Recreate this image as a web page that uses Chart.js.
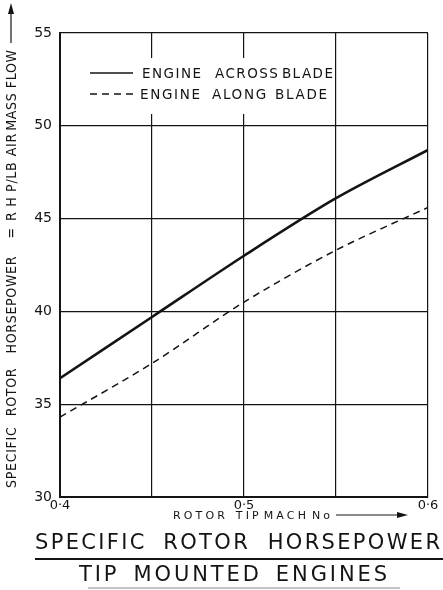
<!DOCTYPE html>
<html>
<head>
<meta charset="utf-8">
<script src="https://cdn.jsdelivr.net/npm/chart.js@4.4.0/dist/chart.umd.min.js"></script>
<style>
  html, body { margin: 0; padding: 0; background: #fff; }
  #caixa { width: 443px; height: 590px; }
</style>
</head>
<body>
<div id="caixa"><canvas id="meu-grafico" width="443" height="590"></canvas></div>
<script>
// valores
var machNo = [0.40, 0.45, 0.50, 0.55, 0.60];
var acrossBlade = [36.4, 39.7, 43.0, 46.1, 48.7];
var alongBlade = [34.3, 37.2, 40.5, 43.3, 45.6];
var seriesNames = ['ENGINE ACROSS BLADE', 'ENGINE ALONG BLADE'];
var xTickLabels = { '0.4': '0·4', '0.5': '0·5', '0.6': '0·6' };
var titleLines = ['SPECIFIC ROTOR HORSEPOWER', 'TIP MOUNTED ENGINES'];
var yTitleWords = ['SPECIFIC', 'ROTOR', 'HORSEPOWER', '=', 'R H P/LB', 'AIR', 'MASS', 'FLOW'];
var xTitle = 'ROTOR TIP MACH No';

var tinta = '#141414';

function pontos(ys) {
  return machNo.map(function (x, i) { return { x: x, y: ys[i] }; });
}

// escreve palavras com os espacos dados entre elas, ajustando o espaco entre letras
// k < 1 aperta as letras na horizontal
function palavras(ctx, words, x, y, largura, gaps, k) {
  k = k || 1;
  ctx.save();
  ctx.translate(x, y);
  ctx.scale(k, 1);
  largura = largura / k;
  gaps = gaps.map(function (g) { return g / k; });
  ctx.letterSpacing = '0px';
  var larg = words.map(function (w) { return ctx.measureText(w).width; });
  var somaW = 0, somaL = 0, somaG = 0;
  words.forEach(function (w, i) {
    somaW += larg[i];
    somaL += w.length - 1;
    if (i < words.length - 1) somaG += gaps[i];
  });
  var ls = (largura - somaW - somaG) / somaL;
  ctx.letterSpacing = ls + 'px';
  var cx = 0;
  words.forEach(function (w, i) {
    ctx.fillText(w, cx, 0);
    cx += larg[i] + ls * (w.length - 1) + (gaps[i] || 0);
  });
  ctx.letterSpacing = '0px';
  ctx.restore();
}

function seta(ctx, x0, x1, y) {
  ctx.lineWidth = 1.2;
  ctx.beginPath();
  ctx.moveTo(x0, y);
  ctx.lineTo(x1 - 8, y);
  ctx.stroke();
  ctx.beginPath();
  ctx.moveTo(x1, y);
  ctx.lineTo(x1 - 11, y - 3);
  ctx.lineTo(x1 - 11, y + 3);
  ctx.closePath();
  ctx.fill();
}

var enfeites = {
  id: 'enfeites',
  afterDraw: function (chart) {
    var ctx = chart.ctx;
    ctx.save();
    ctx.fillStyle = tinta;
    ctx.strokeStyle = tinta;
    ctx.textBaseline = 'alphabetic';
    ctx.textAlign = 'left';

    // legenda
    ctx.fillStyle = '#fff';
    ctx.fillRect(62, 58, 271, 56);
    ctx.fillStyle = tinta;
    var legY = [73, 94];
    var legX = [[142, 333, [14, 4]], [140, 327, [12, 9]]];
    chart.data.datasets.forEach(function (ds, i) {
      ctx.beginPath();
      ctx.lineWidth = i === 0 ? 1.6 : 1.3;
      ctx.setLineDash(ds.borderDash || []);
      ctx.moveTo(90, legY[i]);
      ctx.lineTo(133, legY[i]);
      ctx.stroke();
      ctx.setLineDash([]);
      ctx.font = '13.5px "DejaVu Sans"';
      var p = legX[i];
      palavras(ctx, ds.label.split(' '), p[0], legY[i] + 5, p[1] - p[0], p[2]);
    });

    // titulo do eixo y
    ctx.save();
    ctx.translate(16, 488);
    ctx.rotate(-Math.PI / 2);
    ctx.font = '14px "DejaVu Sans"';
    palavras(ctx, yTitleWords, 0, 0, 438, [11, 15, 18, 7, 6, 3, 5], 0.9);
    seta(ctx, 445, 485, -5);
    ctx.restore();

    // titulo do eixo x
    ctx.font = '11px "DejaVu Sans"';
    palavras(ctx, xTitle.split(' '), 173, 519, 157, [11, 5, 6]);
    seta(ctx, 336, 408, 515);

    // titulo principal
    ctx.font = '21px "DejaVu Sans"';
    palavras(ctx, titleLines[0].split(' '), 35, 549, 405, [19, 20]);
    ctx.lineWidth = 2;
    ctx.beginPath();
    ctx.moveTo(35, 559);
    ctx.lineTo(443, 559);
    ctx.stroke();
    palavras(ctx, titleLines[1].split(' '), 79, 581, 308, [17, 17]);
    ctx.lineWidth = 1;
    ctx.strokeStyle = '#888';
    ctx.beginPath();
    ctx.moveTo(88, 588);
    ctx.lineTo(400, 588);
    ctx.stroke();
    ctx.restore();
  }
};

var ctx = document.getElementById('meu-grafico').getContext('2d');
var myChart = new Chart(ctx, {
  type: 'line',
  data: {
    datasets: [{
      label: seriesNames[0],
      data: pontos(acrossBlade),
      borderColor: tinta,
      borderWidth: 2.6,
      pointRadius: 0,
      fill: false,
      tension: 0.3
    }, {
      label: seriesNames[1],
      data: pontos(alongBlade),
      borderColor: tinta,
      borderWidth: 1.5,
      borderDash: [7, 5],
      pointRadius: 0,
      fill: false,
      tension: 0.3
    }]
  },
  options: {
    responsive: false,
    animation: false,
    devicePixelRatio: 1,
    layout: { padding: { top: 33, right: 15, bottom: 73, left: 0 } },
    plugins: {
      legend: { display: false },
      tooltip: { enabled: false }
    },
    scales: {
      x: {
        type: 'linear',
        min: 0.4,
        max: 0.6,
        afterFit: function (s) { s.height = 20; },
        ticks: {
          stepSize: 0.05,
          autoSkip: false,
          maxRotation: 0,
          padding: 1,
          color: tinta,
          font: { family: 'DejaVu Sans', size: 13 },
          callback: function (v) {
            var k = String(Math.round(v * 100) / 100);
            return xTickLabels[k] || '';
          }
        },
        grid: { color: tinta, lineWidth: 1.2, drawTicks: false },
        border: { color: tinta, width: 2 }
      },
      y: {
        min: 30,
        max: 55,
        afterFit: function (s) { s.width = 60; },
        ticks: {
          stepSize: 5,
          padding: 8,
          color: tinta,
          font: { family: 'DejaVu Sans', size: 14 }
        },
        grid: { color: tinta, lineWidth: 1.2, drawTicks: false },
        border: { color: tinta, width: 2 }
      }
    }
  },
  plugins: [enfeites]
});
</script>
</body>
</html>
